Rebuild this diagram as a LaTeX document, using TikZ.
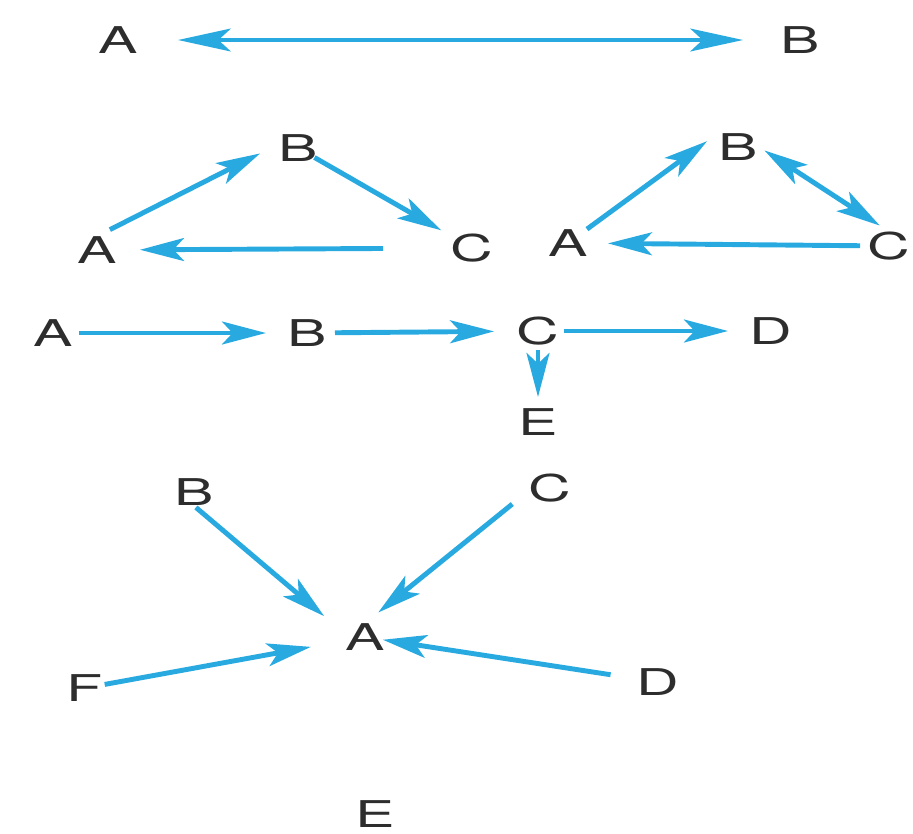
\documentclass[tikz,border=0pt]{standalone}
\usepackage{fontspec}
\usetikzlibrary{arrows.meta}
\newfontfamily\letrafonte{TeX Gyre Heros}[FakeStretch=1.6]
\definecolor{azul}{RGB}{40,170,225}
\definecolor{tinta}{RGB}{45,45,45}

\begin{document}
\begin{tikzpicture}[x=0.02cm, y=-0.02cm,
		rotulo/.style={inner sep=0pt, text=tinta, font=\letrafonte\fontsize{21}{24}\selectfont},
		seta/.style={draw=azul, line width=2.8pt, -{Stealth[length=25pt, width=13pt, inset=6pt]}},
		setadupla/.style={draw=azul, line width=2.8pt, {Stealth[length=25pt, width=13pt, inset=6pt]}-{Stealth[length=25pt, width=13pt, inset=6pt]}},
		setalonga/.style={draw=azul, line width=2.2pt, {Stealth[length=30pt, width=13pt, inset=7pt]}-{Stealth[length=30pt, width=13pt, inset=7pt]}}]
			\useasboundingbox (0, 0) rectangle (913, 833);
			% linha de cima
			\node[rotulo] (a1) at (118, 40) {A};
			\node[rotulo] (b1) at (800, 40) {B};
			\draw[setalonga, shorten <=1.2cm, shorten >=1.14cm] (a1.center) -- (b1.center);
			% triangulo da esquerda
			\node[rotulo] (a2) at (97, 250) {A};
			\node[rotulo] (b2) at (298, 148) {B};
			\node[rotulo] (c2) at (472, 248) {C};
			\draw[seta, shorten <=0.29cm, shorten >=0.85cm] (a2.north) -- (b2.north);
			\draw[seta, shorten <=0.38cm, shorten >=0.71cm] (b2.center) -- (c2.center);
			\draw[seta, shorten <=1.78cm, shorten >=0.86cm] (c2.center) -- (a2.center);
			% triangulo da direita
			\node[rotulo] (a3) at (568, 243) {A};
			\node[rotulo] (b3) at (738, 147) {B};
			\node[rotulo] (c3) at (889, 246) {C};
			\draw[seta, shorten <=0.47cm, shorten >=0.27cm] (a3.center) -- (b3.north west);
			\draw[setadupla, shorten <=0.63cm, shorten >=0.22cm] (b3.north) -- (c3.north);
			\draw[seta, shorten <=0.58cm, shorten >=0.8cm] (c3.center) -- (a3.center);
			% cadeia
			\node[rotulo] (a4) at (53, 333) {A};
			\node[rotulo] (b4) at (307, 333) {B};
			\node[rotulo] (c4) at (538, 331) {C};
			\node[rotulo] (d4) at (771, 331) {D};
			\node[rotulo] (e4) at (538, 422) {E};
			\draw[seta, shorten <=0.52cm, shorten >=0.82cm] (a4.center) -- (b4.center);
			\draw[seta, shorten <=0.56cm, shorten >=0.88cm] (b4.center) -- (c4.center);
			\draw[seta, shorten <=0.52cm, shorten >=0.86cm] (c4.center) -- (d4.center);
			\draw[seta, shorten <=0.38cm, shorten >=0.5cm] (c4.center) -- (e4.center);
			% estrela
			\node[rotulo] (a5) at (365, 637) {A};
			\node[rotulo] (b5) at (194, 492) {B};
			\node[rotulo] (c5) at (550, 488) {C};
			\node[rotulo] (d5) at (658, 682) {D};
			\node[rotulo] (e5) at (375, 814) {E};
			\node[rotulo] (f5) at (85, 688) {F};
			\draw[seta, shorten <=0.05cm, shorten >=1.07cm] (b5.south) -- (a5.south);
			\draw[seta, shorten <=0.97cm, shorten >=0.34cm] (c5.north) -- (a5.north);
			\draw[seta, shorten <=0.4cm, shorten >=1.1cm] (f5.center) -- (a5.center);
			\draw[seta, shorten <=0.96cm, shorten >=0.36cm] (d5.center) -- (a5.center);
		\end{tikzpicture}
\end{document}
